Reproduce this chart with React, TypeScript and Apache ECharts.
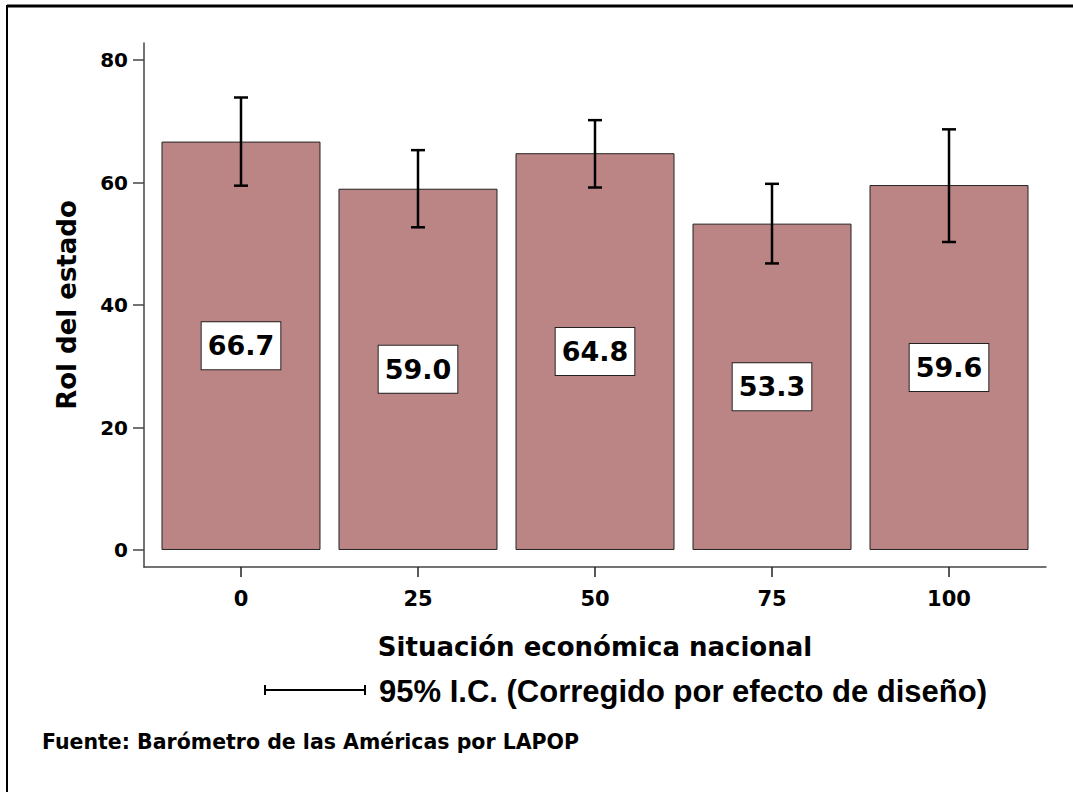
import React, { useEffect, useRef } from "react";
import * as echarts from "echarts";

const categories = [0, 25, 50, 75, 100];
const means = [66.7, 59.0, 64.8, 53.3, 59.6];
const ciLow = [59.5, 52.7, 59.2, 46.8, 50.3];
const ciHigh = [73.9, 65.3, 70.2, 59.8, 68.7];
const yTicks = [0, 20, 40, 60, 80];

const FONT = "'DejaVu Sans', 'Liberation Sans', sans-serif";

export default function App() {
  const ref = useRef<HTMLDivElement>(null);
  useEffect(() => {
    document.body.style.margin = "0";
    const chart = echarts.init(ref.current!, null, { renderer: "svg" });
    const barData = categories.map((c, i) => [c, means[i]]);
    const errData = categories.map((c, i) => [c, ciLow[i], ciHigh[i]]);
    chart.setOption({
      animation: false,
      backgroundColor: "#ffffff",
      grid: { left: 144, right: 27, top: 43, bottom: 225, containLabel: false },
      xAxis: {
        type: "value",
        min: -13.7,
        max: 113.7,
        name: "Situación económica nacional",
        nameLocation: "middle",
        nameGap: 67,
        nameTextStyle: { fontFamily: FONT, fontWeight: "bold", fontSize: 26, color: "#000" },
        splitLine: { show: false },
        axisLine: { show: true, onZero: false, lineStyle: { color: "#444", width: 1.5 } },
        axisTick: { show: true, length: 10, customValues: categories, lineStyle: { color: "#222", width: 1.5 } },
        axisLabel: {
          customValues: categories,
          margin: 21,
          fontFamily: FONT,
          fontWeight: "bold",
          fontSize: 21,
          color: "#000",
        },
      },
      yAxis: {
        type: "value",
        min: -2.78,
        max: 82.8,
        name: "Rol del estado",
        nameLocation: "middle",
        nameGap: 64,
        nameTextStyle: { fontFamily: FONT, fontWeight: "bold", fontSize: 26, color: "#000" },
        splitLine: { show: false },
        axisLine: { show: true, onZero: false, lineStyle: { color: "#444", width: 1.5 } },
        axisTick: { show: true, length: 11, customValues: yTicks, lineStyle: { color: "#444", width: 1.5 } },
        axisLabel: {
          customValues: yTicks,
          margin: 16,
          fontFamily: FONT,
          fontWeight: "bold",
          fontSize: 20,
          color: "#000",
        },
      },
      series: [
        {
          type: "bar",
          data: barData,
          barWidth: 159,
          itemStyle: { color: "#bc8585", borderColor: "#222", borderWidth: 1 },
          label: {
            show: true,
            position: "inside",
            formatter: (p: any) => Number(p.value[1]).toFixed(1),
            fontFamily: FONT,
            fontWeight: "bold",
            fontSize: 27,
            color: "#000",
            backgroundColor: "#fff",
            borderColor: "#222",
            borderWidth: 1,
            padding: [11, 6, 9, 6],
          },
          z: 2,
        },
        {
          type: "custom",
          data: errData,
          z: 5,
          renderItem: (params: any, api: any) => {
            const x = api.value(0);
            const lo = api.coord([x, api.value(1)]);
            const hi = api.coord([x, api.value(2)]);
            const hw = 7;
            const style = { stroke: "#000", lineWidth: 2.5 };
            return {
              type: "group",
              children: [
                { type: "line", shape: { x1: lo[0], y1: lo[1], x2: hi[0], y2: hi[1] }, style },
                { type: "line", shape: { x1: lo[0] - hw, y1: lo[1], x2: lo[0] + hw, y2: lo[1] }, style },
                { type: "line", shape: { x1: hi[0] - hw, y1: hi[1], x2: hi[0] + hw, y2: hi[1] }, style },
              ],
            };
          },
        },
      ],
      graphic: [
        { type: "line", shape: { x1: 7, y1: 6, x2: 1073, y2: 6 }, style: { stroke: "#000", lineWidth: 3 } },
        { type: "line", shape: { x1: 7, y1: 5, x2: 7, y2: 792 }, style: { stroke: "#000", lineWidth: 2 } },
        { type: "line", shape: { x1: 265, y1: 690, x2: 365, y2: 690 }, style: { stroke: "#000", lineWidth: 2 } },
        { type: "line", shape: { x1: 265, y1: 685, x2: 265, y2: 695 }, style: { stroke: "#000", lineWidth: 2 } },
        { type: "line", shape: { x1: 365, y1: 685, x2: 365, y2: 695 }, style: { stroke: "#000", lineWidth: 2 } },
        {
          type: "text",
          x: 379,
          y: 691,
          style: {
            text: "95% I.C. (Corregido por efecto de diseño)",
            font: "bold 31px 'Liberation Sans', Arial, sans-serif",
            fill: "#000",
            textAlign: "left",
            textVerticalAlign: "middle",
          },
        },
        {
          type: "text",
          x: 42,
          y: 742,
          style: {
            text: "Fuente: Barómetro de las Américas por LAPOP",
            font: "bold 20.5px 'DejaVu Sans', sans-serif",
            fill: "#000",
            textAlign: "left",
            textVerticalAlign: "middle",
          },
        },
      ],
    });
    return () => chart.dispose();
  }, []);
  return <div ref={ref} style={{ position: "absolute", left: 0, top: 0, width: 1073, height: 792 }} />;
}
